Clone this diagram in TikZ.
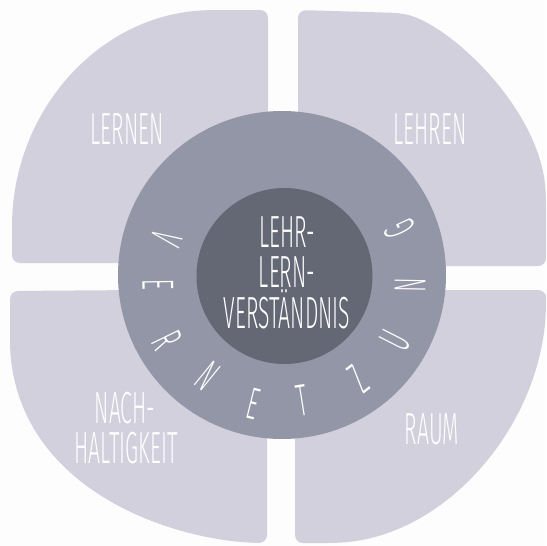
\documentclass[tikz,border=0pt]{standalone}
\usepackage{fontspec}
\usepackage{graphicx}
\IfFontExistsTF{Fira Sans Light}{\newfontfamily\handfont{Fira Sans Light}}{\newfontfamily\handfont{Fira Sans}}
\newcommand\hw[1]{\scalebox{0.47}[1]{\handfont\fontsize{45}{54}\selectfont #1}}
\definecolor{bgc}{RGB}{253,253,253}
\definecolor{blobc}{RGB}{209,208,220}
\definecolor{ringc}{RGB}{147,150,166}
\definecolor{innerc}{RGB}{100,104,117}
\tikzset{
  blob/.style={fill=blobc, rounded corners=8pt},
  lbl/.style={text=white, inner sep=0pt, anchor=base},
  ltr/.style={text=white, inner sep=0pt, anchor=center}
}
\begin{document}
\begin{tikzpicture}[x=1pt,y=-1pt]
\fill[bgc] (0,0) rectangle (546,546);
\useasboundingbox (0,0) rectangle (546,546);
% quadrants
\fill[blob] (12,235) .. controls (12,110) and (100,14) .. (213,10) -- (268,10) -- (268,263) -- (12,263) -- cycle;
\fill[blob] (400,13) .. controls (450,25) and (542,110) .. (546,200) -- (546,266) -- (298,266) -- (298,10) -- cycle;
\fill[blob] (267,543) .. controls (180,542) and (25,495) .. (10,350) -- (10,291) -- (267,289) -- cycle;
\fill[blob] (335,543) .. controls (450,535) and (545,420) .. (546,297) -- (546,290) -- (295,290) -- (295,543) -- cycle;
% ring and core
\fill[ringc] (282,275) circle[radius=164];
\fill[innerc] (284.5,276) circle[radius=88];
% quadrant labels
\node[lbl] (lernen) at (127,144) {\hw{LERNEN}};
\node[lbl] (lehren) at (430,144) {\hw{LEHREN}};
\node[lbl] (nach) at (125,423) {\hw{NACH-}};
\node[lbl] (halt) at (126,463) {\hw{HALTIGKEIT}};
\node[lbl] (raum) at (432,444) {\hw{RAUM}};
% center
\node[lbl] (c1) at (287,247) {\hw{LEHR-}};
\node[lbl] (c2) at (287,287) {\hw{LERN-}};
\node[lbl] (c3) at (287,328) {\hw{VERSTÄNDNIS}};
% ring letters
\node[ltr, rotate=249] (l1) at (167,238) {\hw{V}};
\node[ltr, rotate=271] (l2) at (158,285) {\hw{E}};
\node[ltr, rotate=296] (l3) at (167,340) {\hw{R}};
\node[ltr, rotate=321] (l4) at (208,376) {\hw{N}};
\node[ltr, rotate=346] (l5) at (253,404) {\hw{E}};
\node[ltr, rotate=9] (l6) at (302,400) {\hw{T}};
\node[ltr, rotate=38] (l7) at (358,379) {\hw{Z}};
\node[ltr, rotate=63] (l8) at (395,340) {\hw{U}};
\node[ltr, rotate=89] (l9) at (410,285) {\hw{N}};
\node[ltr, rotate=115] (l10) at (400,229) {\hw{G}};
\end{tikzpicture}
\end{document}
